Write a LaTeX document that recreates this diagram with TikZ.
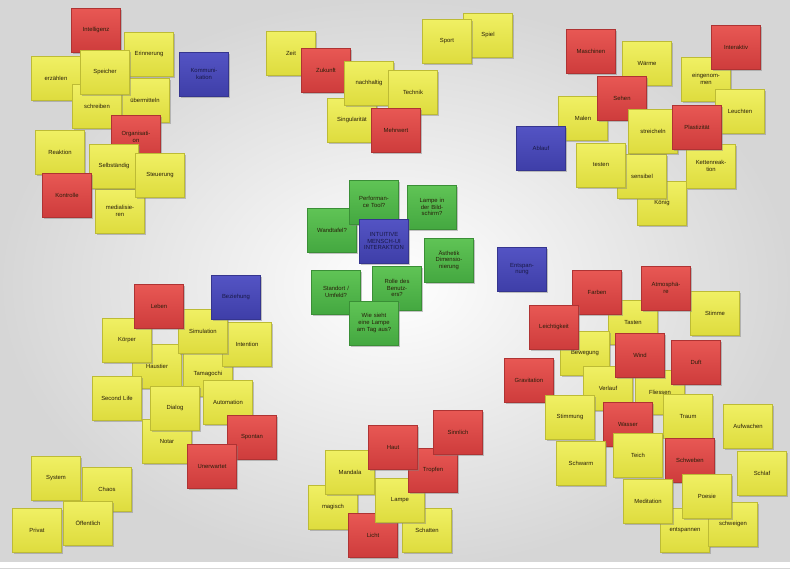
\documentclass[tikz,border=0pt]{standalone}
\usepackage{fontspec}
\setmainfont{Liberation Sans}
\usetikzlibrary{shadows}
\definecolor{yelT}{RGB}{240,240,100}
\definecolor{yelB}{RGB}{222,220,62}
\definecolor{redT}{RGB}{232,88,84}
\definecolor{redB}{RGB}{206,60,60}
\definecolor{bluT}{RGB}{84,84,196}
\definecolor{bluB}{RGB}{62,62,168}
\definecolor{grnT}{RGB}{96,196,86}
\definecolor{grnB}{RGB}{68,168,64}
\definecolor{ink}{RGB}{40,30,10}
\definecolor{bluink}{RGB}{25,25,70}
\newcommand\stick[5]{\node[#4] (#1) at (#2,#3) {#5};}
\tikzset{
  note/.style={minimum width=49pt, minimum height=44pt, text width=46pt, inner sep=1pt,
    align=center, font=\fontsize{5.9}{6.8}\selectfont, text=ink,
    drop shadow={shadow xshift=1.3pt, shadow yshift=-1.8pt, opacity=0.45}},
  yel/.style={note, top color=yelT, bottom color=yelB, draw=yelB!85!black, line width=0.3pt},
  red/.style={note, top color=redT, bottom color=redB, draw=redB!85!black, line width=0.3pt},
  blu/.style={note, top color=bluT, bottom color=bluB, draw=bluB!85!black, line width=0.3pt, text=bluink},
  grn/.style={note, top color=grnT, bottom color=grnB, draw=grnB!85!black, line width=0.3pt},
}
\begin{document}
\begin{tikzpicture}[x=1pt,y=-1pt]
\useasboundingbox (0,0) rectangle (790,568);
\shade[inner color=white, outer color=black!16] (0,0) rectangle (790,568);
\fill[white] (0,562) rectangle (790,568);
% top-left cluster
\stick{intell}{96}{30}{red}{Intelligenz}
\stick{erzaehlen}{56}{78}{yel}{erzählen}
\stick{erinnerung}{149}{54}{yel}{Erinnerung}
\stick{uebermitteln}{145}{100}{yel}{übermitteln}
\stick{schreiben}{97}{106}{yel}{schreiben}
\stick{speicher}{105}{72}{yel}{Speicher}
\stick{kommunikation}{204}{74}{blu}{Kommuni-\\kation}
\stick{organisation}{136}{137}{red}{Organisati-\\on}
\stick{reaktion}{60}{152}{yel}{Reaktion}
\stick{medialisieren}{120}{211}{yel}{medialisie-\\ren}
\stick{selbstaendig}{114}{166}{yel}{Selbständig}
\stick{steuerung}{160}{175}{yel}{Steuerung}
\stick{kontrolle}{67}{195}{red}{Kontrolle}
% top-middle cluster
\stick{zeit}{291}{53}{yel}{Zeit}
\stick{zukunft}{326}{70}{red}{Zukunft}
\stick{singularitaet}{352}{120}{yel}{Singularität}
\stick{nachhaltig}{369}{83}{yel}{nachhaltig}
\stick{technik}{413}{92}{yel}{Technik}
\stick{mehrwert}{396}{130}{red}{Mehrwert}
\stick{spiel}{488}{35}{yel}{Spiel}
\stick{sport}{447}{41}{yel}{Sport}
% top-right cluster
\stick{maschinen}{591}{51}{red}{Maschinen}
\stick{waerme}{647}{63}{yel}{Wärme}
\stick{eingenommen}{706}{79}{yel}{eingenom-\\men}
\stick{interaktiv}{736}{47}{red}{Interaktiv}
\stick{leuchten}{740}{111}{yel}{Leuchten}
\stick{malen}{583}{118}{yel}{Malen}
\stick{sehen}{622}{98}{red}{Sehen}
\stick{ablauf}{541}{148}{blu}{Ablauf}
\stick{koenig}{662}{203}{yel}{König}
\stick{sensibel}{642}{176}{yel}{sensibel}
\stick{testen}{601}{165}{yel}{testen}
\stick{streicheln}{653}{131}{yel}{streicheln}
\stick{kettenreaktion}{711}{166}{yel}{Kettenreak-\\tion}
\stick{plastizitaet}{697}{127}{red}{Plastizität}
% centre cluster
\stick{wandtafel}{332}{230}{grn}{Wandtafel?}
\stick{performance}{374}{202}{grn}{Performan-\\ce Tool?}
\stick{bildschirm}{432}{207}{grn}{Lampe in\\der Bild-\\schirm?}
\stick{intuitive}{384}{241}{blu}{INTUITIVE\\MENSCH-UI\\INTERAKTION}
\stick{aesthetik}{449}{260}{grn}{Ästhetik\\Dimensio-\\nierung}
\stick{entspannung}{522}{269}{blu}{Entspan-\\nung}
\stick{standort}{336}{292}{grn}{Standort /\\Umfeld?}
\stick{rolle}{397}{288}{grn}{Rolle des\\Benutz-\\ers?}
\stick{wie}{374}{323}{grn}{Wie sieht\\eine Lampe\\am Tag aus?}
% bottom-left cluster
\stick{haustier}{157}{366}{yel}{Haustier}
\stick{tamagochi}{208}{374}{yel}{Tamagochi}
\stick{koerper}{127}{340}{yel}{Körper}
\stick{intention}{247}{344}{yel}{Intention}
\stick{simulation}{203}{331}{yel}{Simulation}
\stick{leben}{159}{306}{red}{Leben}
\stick{beziehung}{236}{297}{blu}{Beziehung}
\stick{secondlife}{117}{398}{yel}{Second Life}
\stick{automation}{228}{402}{yel}{Automation}
\stick{notar}{167}{441}{yel}{Notar}
\stick{dialog}{175}{408}{yel}{Dialog}
\stick{spontan}{252}{437}{red}{Spontan}
\stick{unerwartet}{212}{466}{red}{Unerwartet}
% bottom-left corner
\stick{system}{56}{478}{yel}{System}
\stick{chaos}{107}{489}{yel}{Chaos}
\stick{privat}{37}{530}{yel}{Privat}
\stick{oeffentlich}{88}{523}{yel}{Öffentlich}
% bottom-middle cluster
\stick{magisch}{333}{507}{yel}{magisch}
\stick{mandala}{350}{472}{yel}{Mandala}
\stick{licht}{373}{535}{red}{Licht}
\stick{schatten}{427}{530}{yel}{Schatten}
\stick{lampe}{400}{500}{yel}{Lampe}
\stick{tropfen}{433}{470}{red}{Tropfen}
\stick{haut}{393}{447}{red}{Haut}
\stick{sinnlich}{458}{432}{red}{Sinnlich}
% bottom-right cluster
\stick{stimme}{715}{313}{yel}{Stimme}
\stick{tasten}{633}{322}{yel}{Tasten}
\stick{farben}{597}{292}{red}{Farben}
\stick{atmosphaere}{666}{288}{red}{Atmosphä-\\re}
\stick{bewegung}{585}{353}{yel}{Bewegung}
\stick{leichtigkeit}{554}{327}{red}{Leichtigkeit}
\stick{verlauf}{608}{388}{yel}{Verlauf}
\stick{fliessen}{660}{392}{yel}{Fliessen}
\stick{wind}{640}{355}{red}{Wind}
\stick{duft}{696}{362}{red}{Duft}
\stick{gravitation}{529}{380}{red}{Gravitation}
\stick{stimmung}{570}{417}{yel}{Stimmung}
\stick{wasser}{628}{424}{red}{Wasser}
\stick{traum}{688}{416}{yel}{Traum}
\stick{aufwachen}{748}{426}{yel}{Aufwachen}
\stick{schwarm}{581}{463}{yel}{Schwarm}
\stick{teich}{638}{455}{yel}{Teich}
\stick{schweben}{690}{460}{red}{Schweben}
\stick{schlaf}{762}{473}{yel}{Schlaf}
\stick{entspannen}{685}{530}{yel}{entspannen}
\stick{schweigen}{733}{524}{yel}{schweigen}
\stick{meditation}{648}{501}{yel}{Meditation}
\stick{poesie}{707}{496}{yel}{Poesie}
\end{tikzpicture}
\end{document}
